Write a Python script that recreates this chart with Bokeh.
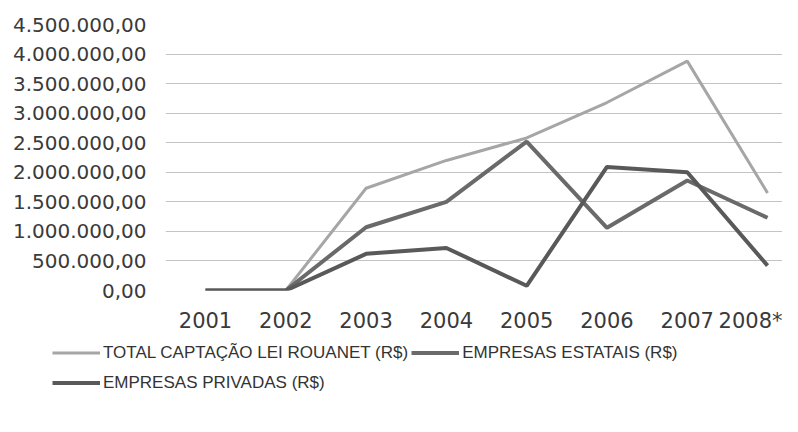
from bokeh.plotting import figure
from bokeh.models import FixedTicker, Legend, LegendItem
from bokeh.layouts import column, row
from bokeh.embed import file_html
from bokeh.resources import INLINE

# ---- data ----
years = ["2001", "2002", "2003", "2004", "2005", "2006", "2007", "2008*"]
total_rouanet = [0, 0, 1730000, 2200000, 2580000, 3180000, 3880000, 1650000]
empresas_estatais = [0, 0, 1070000, 1500000, 2520000, 1060000, 1860000, 1230000]
empresas_privadas = [0, 0, 620000, 720000, 80000, 2090000, 2000000, 420000]
y_ticks = [0, 500000, 1000000, 1500000, 2000000, 2500000, 3000000, 3500000, 4000000, 4500000]
y_tick_labels = ["0,00", "500.000,00", "1.000.000,00", "1.500.000,00", "2.000.000,00",
                 "2.500.000,00", "3.000.000,00", "3.500.000,00", "4.000.000,00", "4.500.000,00"]
series_names = ["TOTAL CAPTAÇÃO LEI ROUANET (R$)", "EMPRESAS ESTATAIS (R$)", "EMPRESAS PRIVADAS (R$)"]
series_colors = ["#a6a6a6", "#6a6a6a", "#595959"]
series_widths = [3, 4, 4]

xs = list(range(len(years)))

p = figure(width=782, height=335, output_backend="svg", toolbar_location=None,
           x_range=(-0.498, 7.186), y_range=(0, 4500000),
           min_border_left=165, min_border_right=0, min_border_top=24, min_border_bottom=43)
p.outline_line_color = None
p.xgrid.grid_line_color = None
p.ygrid.grid_line_color = "#c4c4c4"
p.ygrid.grid_line_width = 1

p.yaxis.ticker = FixedTicker(ticks=y_ticks)
p.yaxis.major_label_overrides = {t: l for t, l in zip(y_ticks, y_tick_labels)}
p.xaxis.ticker = FixedTicker(ticks=xs)
p.xaxis.major_label_overrides = {i: y for i, y in zip(xs, years)}

for ax in (p.xaxis[0], p.yaxis[0]):
    ax.axis_line_color = None
    ax.major_tick_line_color = None
    ax.minor_tick_line_color = None
    ax.major_label_text_font = "DejaVu Sans"
    ax.major_label_text_color = "#3a3a3a"
p.yaxis.major_label_text_font_size = "20px"
p.yaxis.major_label_standoff = 13
p.xaxis.major_label_text_font_size = "21px"
p.xaxis.major_label_standoff = 12

series = [total_rouanet, empresas_estatais, empresas_privadas]
for vals, c, w in zip(series, series_colors, series_widths):
    p.line(xs, vals, line_color=c, line_width=w)

# legend panel below the chart (legend renderers lie outside its visible range)
lg = figure(width=782, height=81, output_backend="svg", toolbar_location=None,
            x_axis_type=None, y_axis_type=None, x_range=(0, 1), y_range=(0, 1),
            min_border_left=52, min_border_right=0, min_border_top=4, min_border_bottom=0)
lg.outline_line_color = None
lg.xgrid.grid_line_color = None
lg.ygrid.grid_line_color = None
items = []
for name, c, w in zip(series_names, series_colors, series_widths):
    r = lg.line([5, 6], [5, 6], line_color=c, line_width=w)
    items.append(LegendItem(label=name, renderers=[r]))

legend = Legend(items=items, location="top_left", ncols=2, orientation="horizontal",
                border_line_color=None, background_fill_alpha=0,
                padding=0, margin=0, spacing=3,
                glyph_width=48, glyph_height=27, label_height=27,
                label_standoff=3,
                label_text_font="Liberation Sans",
                label_text_font_size="17px", label_text_color="#333333")
lg.add_layout(legend, "center")

layout = column(p, row(lg), spacing=0)
open("out.html", "w").write(file_html(layout, INLINE))
